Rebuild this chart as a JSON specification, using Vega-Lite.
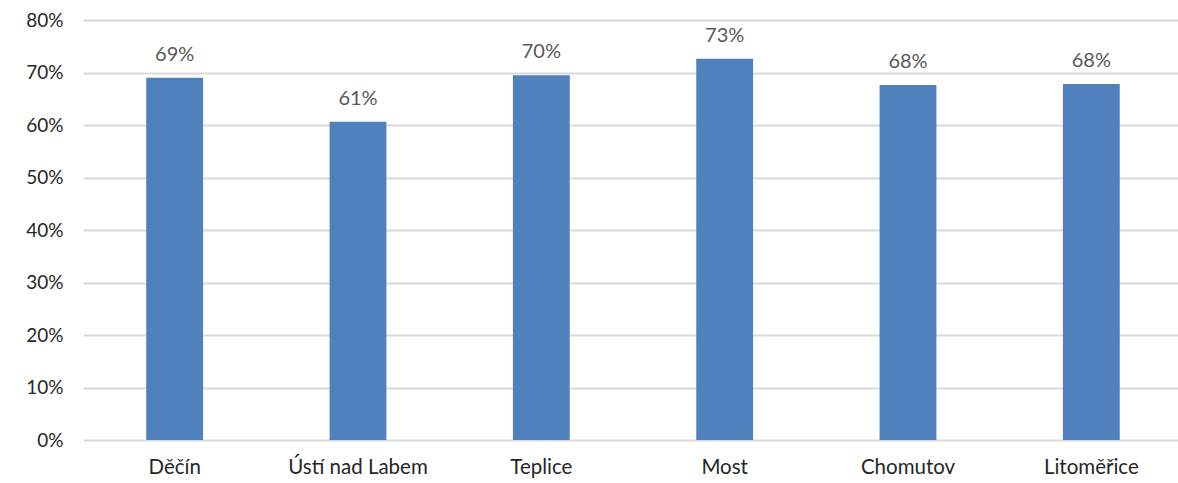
{
  "$schema": "https://vega.github.io/schema/vega-lite/v6.json",
  "autosize": "none",
  "padding": {"left": 83, "top": 20, "right": 0, "bottom": 43},
  "width": 1100,
  "height": 420,
  "background": "white",
  "config": {
    "view": {"stroke": null},
    "font": "Lato"
  },
  "data": {
    "values": [
      {"okres": "Děčín", "podil": 0.69},
      {"okres": "Ústí nad Labem", "podil": 0.606},
      {"okres": "Teplice", "podil": 0.695},
      {"okres": "Most", "podil": 0.726},
      {"okres": "Chomutov", "podil": 0.676},
      {"okres": "Litoměřice", "podil": 0.678}
    ]
  },
  "encoding": {
    "x": {
      "field": "okres", "type": "nominal", "sort": null,
      "scale": {"paddingInner": 0.69, "paddingOuter": 0.345},
      "axis": {"title": null, "labelAngle": 0, "domain": false, "ticks": false, "labelPadding": 17, "labelFontSize": 20.5, "labelFontWeight": "normal", "labelColor": "#262626", "labelFont": "Lato"}
    },
    "y": {
      "field": "podil", "type": "quantitative",
      "scale": {"domain": [0, 0.8], "nice": false},
      "axis": {"title": null, "format": ".0%", "values": [0, 0.1, 0.2, 0.3, 0.4, 0.5, 0.6, 0.7, 0.8], "domain": false, "ticks": false, "labelPadding": 20, "labelFontSize": 19, "labelColor": "#262626", "gridColor": "#d9d9d9", "gridWidth": 2, "labelFont": "Lato"}
    }
  },
  "layer": [
    {"mark": {"type": "bar", "color": "#4f81bd"}},
    {
      "mark": {"type": "text", "baseline": "alphabetic", "dy": -17, "fontSize": 20, "color": "#595959", "font": "Lato"},
      "encoding": {"text": {"field": "podil", "type": "quantitative", "format": ".0%"}}
    }
  ]
}
